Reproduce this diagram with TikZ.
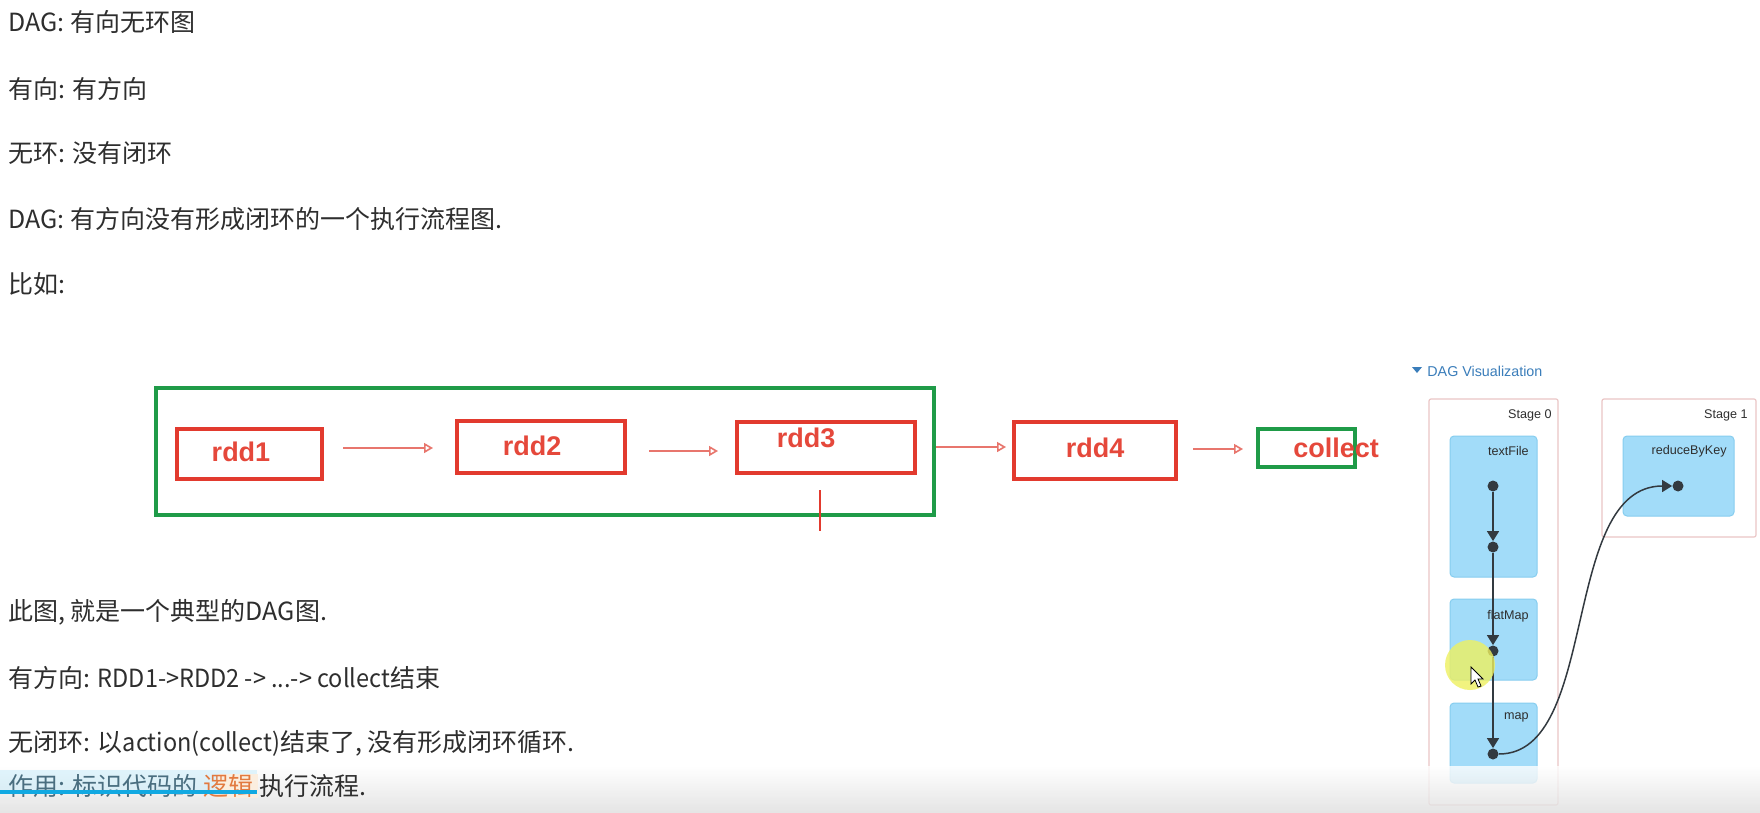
\documentclass[tikz,border=0pt]{standalone}
\usepackage{fontspec}
\setmainfont{Noto Sans CJK SC}
\newfontfamily\arialf{Liberation Sans}
\newfontfamily\lblf{Liberation Sans}
\newcommand\narrowlat[1]{{\addfontfeature{FakeStretch=0.94}#1}}
\usetikzlibrary{arrows.meta}
\definecolor{textgray}{HTML}{2E2E2E}
\definecolor{rddred}{HTML}{E23A2E}
\definecolor{lblred}{HTML}{E5483B}
\definecolor{grn}{HTML}{1F9B48}
\definecolor{arrred}{HTML}{E8766D}
\definecolor{dagblue}{HTML}{3A7DBA}
\definecolor{stagepink}{HTML}{EBC6C6}
\definecolor{boxfill}{HTML}{A2DCF9}
\definecolor{boxdraw}{HTML}{86CDEF}
\definecolor{dotgray}{HTML}{333A40}
\definecolor{slate}{HTML}{4A6E80}
\definecolor{orangetxt}{HTML}{E27A40}
\definecolor{orangebg}{HTML}{FBEEDF}
\definecolor{barblue}{HTML}{12A9E2}
\definecolor{hiyellow}{HTML}{EEF060}
\begin{document}
\begin{tikzpicture}[x=0.5pt,y=-0.5pt,
  txt/.style={anchor=west, inner sep=0pt, text=textgray, font=\fontsize{12.5pt}{15pt}\selectfont},
  redbox/.style={draw=rddred, line width=1.75pt, inner sep=0pt},
  greenbox/.style={draw=grn, line width=2pt, inner sep=0pt},
  rlabel/.style={text=lblred, font=\lblf\bfseries\fontsize{13.5pt}{16pt}\selectfont, inner sep=0pt, anchor=base},
  rarrow/.style={draw=arrred, line width=0.8pt, -{Triangle[open,length=4.5pt,width=5pt]}},
  stagebox/.style={draw=stagepink, line width=0.6pt, rounded corners=1pt, inner sep=0pt},
  opbox/.style={draw=boxdraw, fill=boxfill, line width=0.5pt, rounded corners=2pt, inner sep=0pt, minimum width=43.5pt},
  daglbl/.style={text=textgray, font=\arialf\fontsize{6.3pt}{7.5pt}\selectfont, inner sep=0pt, anchor=east},
  dagdot/.style={circle, fill=dotgray, inner sep=0pt, minimum size=5.5pt},
  dagedge/.style={draw=dotgray, line width=0.75pt, -{Triangle[length=5pt,width=6pt]}}
]
\useasboundingbox (0,0) rectangle (1760,813);
\fill[white] (0,0) rectangle (1760,813);

% top text
\node[txt] (t1) at (8,22) {DAG: 有向无环图};
\node[txt] (t2) at (8,89) {有向: 有方向};
\node[txt] (t3) at (8,153) {无环: 没有闭环};
\node[txt] (t4) at (8,219) {DAG: 有方向没有形成闭环的一个执行流程图.};
\node[txt] (t5) at (8,284) {比如:};

% rdd diagram
\node[greenbox, minimum width=389pt, minimum height=63.5pt] (G) at (545,451.5) {};
\node[redbox, minimum width=72.5pt, minimum height=25pt] (r1) at (249.5,454) {};
\node[redbox, minimum width=84pt, minimum height=26pt] (r2) at (541,447) {};
\node[redbox, minimum width=89pt, minimum height=25.5pt] (r3) at (826,447.5) {};
\node[redbox, minimum width=81pt, minimum height=28.5pt] (r4) at (1095,450.5) {};
\node[greenbox, minimum width=48.5pt, minimum height=19pt] (col) at (1306.5,448) {};
\node[rlabel] (l1) at (241,461) {rdd1};
\node[rlabel] (l2) at (532,455) {rdd2};
\node[rlabel] (l3) at (806,447) {rdd3};
\node[rlabel] (l4) at (1095,457) {rdd4};
\node[rlabel] (lc) at (1336,457) {collect};

\coordinate (a1s) at (343,448); \coordinate (a1e) at (433,448);
\coordinate (a2s) at (649,451); \coordinate (a2e) at (718,451);
\coordinate (a3s) at (936,447); \coordinate (a3e) at (1006,447);
\coordinate (a4s) at (1193,449); \coordinate (a4e) at (1243,449);
\draw[rarrow] (a1s) -- (a1e);
\draw[rarrow] (a2s) -- (a2e);
\draw[rarrow] (a3s) -- (a3e);
\draw[rarrow] (a4s) -- (a4e);
\coordinate (k1) at (820,490); \coordinate (k2) at (820,531);
\draw[draw=rddred, line width=1pt] (k1) -- (k2);

% DAG visualization
\fill[dagblue] (1412,367) -- (1422,367) -- (1417,373) -- cycle;
\node[anchor=west, inner sep=0pt, text=dagblue, font=\arialf\fontsize{7.15pt}{8.5pt}\selectfont] (dv) at (1427,371) {DAG Visualization};

\node[stagebox, minimum width=64.5pt, minimum height=203pt] (s0) at (1493.5,602) {};
\node[stagebox, minimum width=77pt, minimum height=69pt] (s1) at (1679,468) {};
\node[daglbl] (s0l) at (1552,415) {Stage 0};
\node[daglbl] (s1l) at (1748,415) {Stage 1};

\node[opbox, minimum height=70.5pt] (tf) at (1493.5,506.5) {};
\node[opbox, minimum height=40.5pt] (fm) at (1493.5,639.5) {};
\node[opbox, minimum height=40pt] (mp) at (1493.5,743) {};
\node[opbox, minimum width=55.5pt, minimum height=40pt] (rb) at (1678.5,476) {};
\node[daglbl] (tfl) at (1529,451) {textFile};
\node[daglbl] (fml) at (1529,616) {flatMap};
\node[daglbl] (mpl) at (1529,717) {map};
\node[daglbl] (rbl) at (1727,451) {reduceByKey};

\node[dagdot] (d1) at (1493,486) {};
\node[dagdot] (d2) at (1493,547) {};
\node[dagdot] (d3) at (1493,651) {};
\node[dagdot] (d4) at (1493,754) {};
\node[dagdot] (d5) at (1678,486) {};
\draw[dagedge] (d1) -- (d2);
\draw[dagedge] (d2) -- (d3);
\draw[dagedge] (d3) -- (d4);
\draw[dagedge] (d4) .. controls (1600,754) and (1560,486) .. (d5);

% cursor highlight
\fill[hiyellow, opacity=0.8] (1470,665) circle[radius=12.5pt];
\filldraw[fill=white, draw=black, line width=0.4pt] (1471,667) -- (1471,684) -- (1475,680) -- (1478,687) -- (1481,686) -- (1478,679) -- (1483,679) -- cycle;

% bottom text
\node[txt] (t6) at (8,612) {此图, 就是一个典型的DAG图.};
\node[txt] (t7) at (8,678) {有方向: \narrowlat{RDD1->RDD2 -> ...-> collect}结束};
\node[txt] (t8) at (8,743) {无闭环: 以\narrowlat{action(collect)}结束了, 没有形成闭环循环.};

% player overlay
\shade[top color=white, bottom color=black!13, opacity=0.8] (0,766) rectangle (1760,813);
\fill[cyan!25, opacity=0.45] (0,770) rectangle (257,792);
\fill[orangebg] (218,774) rectangle (258,798);
\node[txt] (t9) at (8,786) {{\color{slate}作用: 标识代码的 }{\color{orangetxt}逻辑}{ 执行流程.}};
\coordinate (b1) at (0,792); \coordinate (b2) at (257,792);
\draw[barblue, line width=1.6pt] (b1) -- (b2);
\end{tikzpicture}
\end{document}
